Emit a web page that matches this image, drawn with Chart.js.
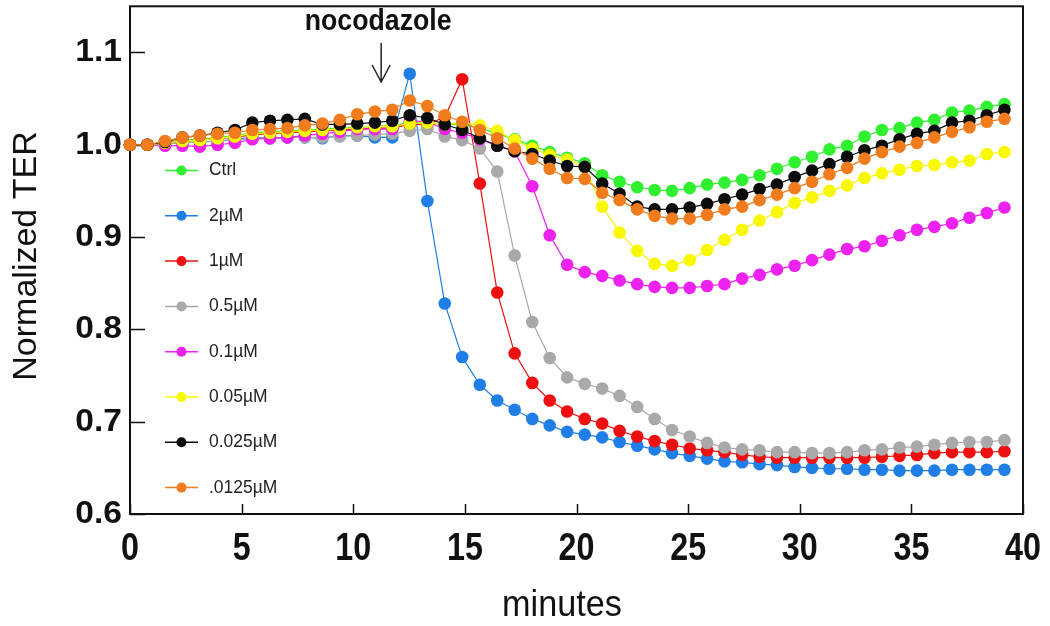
<!DOCTYPE html>
<html>
<head>
<meta charset="utf-8">
<script src="https://cdn.jsdelivr.net/npm/chart.js@4/dist/chart.umd.min.js"></script>
<style>
  html, body { margin: 0; padding: 0; background: #fff; }
  #wrap { width: 1050px; height: 626px; }
</style>
</head>
<body>
<div id="wrap"><canvas id="myChart" width="1050" height="626"></canvas></div>
<script>
// sample times (minutes)
const minutes = [
  0, 0.78, 1.57, 2.35, 3.13, 3.92, 4.70, 5.48, 6.27, 7.05,
  7.83, 8.62, 9.40, 10.18, 10.97, 11.75, 12.53, 13.32, 14.10, 14.88,
  15.67, 16.45, 17.23, 18.02, 18.80, 19.58, 20.37, 21.15, 21.93, 22.72,
  23.50, 24.28, 25.07, 25.85, 26.63, 27.42, 28.20, 28.98, 29.77, 30.55,
  31.33, 32.12, 32.90, 33.68, 34.47, 35.25, 36.03, 36.82, 37.60, 38.38, 39.17
];

const ctrl = [
  1.000, 1.000, 1.003, 1.005, 1.006, 1.008, 1.010, 1.013, 1.014, 1.015,
  1.016, 1.017, 1.018, 1.019, 1.020, 1.021, 1.024, 1.024, 1.022, 1.022,
  1.018, 1.012, 1.006, 0.999, 0.992, 0.986, 0.980, 0.967, 0.960, 0.954,
  0.951, 0.950, 0.953, 0.957, 0.959, 0.962, 0.967, 0.974, 0.981, 0.987,
  0.995, 0.999, 1.009, 1.016, 1.018, 1.024, 1.027, 1.035, 1.037, 1.041, 1.044
];
const uM2 = [
  1.000, 1.000, 1.001, 1.002, 1.003, 1.004, 1.006, 1.008, 1.007, 1.008,
  1.008, 1.007, 1.010, 1.010, 1.008, 1.008, 1.077, 0.939, 0.828, 0.770,
  0.740, 0.723, 0.713, 0.703, 0.696, 0.689, 0.686, 0.683, 0.678, 0.674,
  0.670, 0.666, 0.663, 0.660, 0.657, 0.656, 0.654, 0.653, 0.651, 0.650,
  0.649, 0.649, 0.648, 0.648, 0.647, 0.647, 0.647, 0.648, 0.648, 0.648, 0.648
];
const uM1 = [
  1.000, 1.000, 1.002, 1.004, 1.005, 1.007, 1.008, 1.011, 1.012, 1.013,
  1.014, 1.015, 1.016, 1.017, 1.018, 1.018, 1.022, 1.022, 1.030, 1.071,
  0.958, 0.840, 0.774, 0.742, 0.723, 0.711, 0.703, 0.698, 0.690, 0.684,
  0.679, 0.675, 0.671, 0.669, 0.667, 0.664, 0.662, 0.661, 0.661, 0.661,
  0.661, 0.661, 0.661, 0.662, 0.663, 0.664, 0.666, 0.667, 0.667, 0.667, 0.668
];
const uM05 = [
  1.000, 1.000, 1.001, 1.002, 1.003, 1.004, 1.005, 1.007, 1.007, 1.008,
  1.008, 1.008, 1.009, 1.010, 1.011, 1.012, 1.015, 1.017, 1.009, 1.005,
  0.996, 0.971, 0.880, 0.808, 0.769, 0.748, 0.741, 0.736, 0.728, 0.716,
  0.703, 0.691, 0.684, 0.677, 0.672, 0.670, 0.669, 0.667, 0.667, 0.666,
  0.666, 0.667, 0.669, 0.670, 0.672, 0.673, 0.675, 0.677, 0.678, 0.678, 0.680
];
const uM01 = [
  1.000, 1.000, 0.999, 0.999, 0.998, 1.000, 1.002, 1.006, 1.007, 1.008,
  1.010, 1.012, 1.014, 1.017, 1.017, 1.017, 1.026, 1.025, 1.017, 1.013,
  1.006, 0.999, 0.993, 0.955, 0.902, 0.870, 0.862, 0.858, 0.853, 0.849,
  0.846, 0.845, 0.845, 0.847, 0.849, 0.855, 0.859, 0.865, 0.869, 0.875,
  0.881, 0.887, 0.890, 0.896, 0.902, 0.908, 0.911, 0.915, 0.921, 0.926, 0.932
];
const uM005 = [
  1.000, 1.000, 1.002, 1.004, 1.005, 1.007, 1.009, 1.012, 1.013, 1.014,
  1.015, 1.016, 1.017, 1.019, 1.020, 1.020, 1.023, 1.024, 1.022, 1.024,
  1.021, 1.015, 1.005, 0.996, 0.989, 0.984, 0.976, 0.933, 0.905, 0.885,
  0.871, 0.869, 0.875, 0.886, 0.897, 0.908, 0.918, 0.927, 0.937, 0.943,
  0.950, 0.956, 0.964, 0.969, 0.973, 0.977, 0.978, 0.981, 0.983, 0.990, 0.992
];
const uM0025 = [
  1.000, 1.000, 1.003, 1.008, 1.010, 1.013, 1.016, 1.024, 1.026, 1.027,
  1.028, 1.022, 1.022, 1.023, 1.024, 1.026, 1.032, 1.029, 1.022, 1.016,
  1.007, 0.999, 0.993, 0.990, 0.983, 0.977, 0.976, 0.958, 0.947, 0.933,
  0.930, 0.930, 0.932, 0.936, 0.941, 0.946, 0.952, 0.957, 0.965, 0.972,
  0.979, 0.987, 0.994, 0.999, 1.006, 1.012, 1.015, 1.024, 1.026, 1.032, 1.038
];
const uM00125 = [
  1.000, 1.000, 1.004, 1.008, 1.010, 1.012, 1.013, 1.016, 1.017, 1.018,
  1.021, 1.023, 1.027, 1.033, 1.036, 1.038, 1.048, 1.042, 1.032, 1.025,
  1.016, 1.007, 0.996, 0.985, 0.974, 0.964, 0.963, 0.948, 0.940, 0.930,
  0.923, 0.920, 0.920, 0.924, 0.930, 0.933, 0.940, 0.946, 0.953, 0.960,
  0.968, 0.975, 0.985, 0.992, 0.998, 1.002, 1.008, 1.014, 1.019, 1.025, 1.028
];

const seriesLabels = ["Ctrl", "2\u00b5M", "1\u00b5M", "0.5\u00b5M", "0.1\u00b5M", "0.05\u00b5M", "0.025\u00b5M", ".0125\u00b5M"];
const seriesValues = [ctrl, uM2, uM1, uM05, uM01, uM005, uM0025, uM00125];
const seriesColors = ["#30f030", "#1f7fe6", "#ee1010", "#a9a9a9", "#ee22ee", "#f8f800", "#0c0c0c", "#f07c1e"];

const xTicks = [0, 5, 10, 15, 20, 25, 30, 35, 40];
const yTicks = [0.6, 0.7, 0.8, 0.9, 1.0, 1.1];

// where the drug was added
const arrowAt = 11.25;

const FONT = '"Liberation Sans", Arial, sans-serif';

// draw text squeezed / stretched horizontally
function drawText(ctx, text, x, y, font, align, sx) {
  ctx.save();
  ctx.font = font;
  ctx.textAlign = align;
  ctx.textBaseline = "middle";
  ctx.translate(x, y);
  ctx.scale(sx || 1, 1);
  ctx.fillText(text, 0, 0);
  ctx.restore();
}

const framePlugin = {
  id: "frame",
  beforeDatasetsDraw(chart) {
    const { ctx, chartArea: a, scales } = chart;
    ctx.save();
    ctx.strokeStyle = "#111";
    ctx.lineWidth = 2;
    ctx.strokeRect(a.left, a.top, a.right - a.left, a.bottom - a.top);
    // inward tick marks
    ctx.lineWidth = 1.5;
    ctx.beginPath();
    yTicks.forEach((v) => {
      const y = Math.round(scales.y.getPixelForValue(v)) + 0.5;
      ctx.moveTo(a.left, y);
      ctx.lineTo(a.left + 15, y);
    });
    xTicks.forEach((v) => {
      const x = Math.round(scales.x.getPixelForValue(v)) + 0.5;
      ctx.moveTo(x, a.bottom);
      ctx.lineTo(x, a.bottom - 10);
    });
    ctx.stroke();
    ctx.restore();
  },
  afterDatasetsDraw(chart) {
    const { ctx, chartArea: a, scales } = chart;
    ctx.save();
    ctx.fillStyle = "#111";
    // tick labels
    yTicks.forEach((v) => {
      drawText(ctx, v.toFixed(1), a.left - 8, scales.y.getPixelForValue(v), "bold 32px " + FONT, "right", 1.05);
    });
    xTicks.forEach((v) => {
      drawText(ctx, String(v), scales.x.getPixelForValue(v), a.bottom + 36, "bold 38px " + FONT, "center", 0.85);
    });
    // axis titles
    drawText(ctx, "minutes", 562, 606, "36px " + FONT, "center", 0.95);
    ctx.save();
    ctx.translate(27, 256);
    ctx.rotate(-Math.PI / 2);
    drawText(ctx, "Normalized TER", 0, 0, "34px " + FONT, "center", 1);
    ctx.restore();

    // nocodazole annotation
    const ax = scales.x.getPixelForValue(arrowAt);
    drawText(ctx, "nocodazole", ax - 3, 22, "bold 29px " + FONT, "center", 0.92);
    ctx.strokeStyle = "#222";
    ctx.lineWidth = 1.5;
    ctx.beginPath();
    ctx.moveTo(ax, 43);
    ctx.lineTo(ax, 82);
    ctx.moveTo(ax - 9, 65);
    ctx.lineTo(ax, 82);
    ctx.lineTo(ax + 9, 65);
    ctx.stroke();

    // legend inside the plot
    seriesLabels.forEach((label, i) => {
      const y = 170.5 + i * 45.3;
      ctx.strokeStyle = seriesColors[i];
      ctx.lineWidth = 1.5;
      ctx.beginPath();
      ctx.moveTo(165, y);
      ctx.lineTo(198, y);
      ctx.stroke();
      ctx.fillStyle = seriesColors[i];
      ctx.beginPath();
      ctx.arc(181.5, y, 5, 0, Math.PI * 2);
      ctx.fill();
      ctx.fillStyle = "#222";
      drawText(ctx, label, 209, y, "18px " + FONT, "left", 0.97);
    });
    ctx.restore();
  }
};

const datasets = seriesLabels.map((label, i) => ({
  label: label,
  data: minutes.map((m, k) => ({ x: m, y: seriesValues[i][k] })),
  borderColor: seriesColors[i],
  backgroundColor: seriesColors[i],
  pointBackgroundColor: seriesColors[i],
  pointBorderColor: seriesColors[i],
  pointBorderWidth: 0,
  pointRadius: 6.3,
  borderWidth: 1.2,
  tension: 0,
  clip: false,
  // later legend entries sit on top, like the original plot
  order: seriesLabels.length - i
}));

const ctx = document.getElementById("myChart").getContext("2d");
const myChart = new Chart(ctx, {
  type: "line",
  data: { datasets: datasets },
  plugins: [framePlugin],
  options: {
    responsive: false,
    animation: false,
    layout: { padding: { left: 130, right: 27, top: 1, bottom: 112 } },
    plugins: {
      legend: { display: false },
      tooltip: { enabled: false }
    },
    scales: {
      x: { type: "linear", min: 0, max: 40, display: false },
      y: { type: "linear", min: 0.6, max: 1.15, display: false }
    }
  }
});
</script>
</body>
</html>
